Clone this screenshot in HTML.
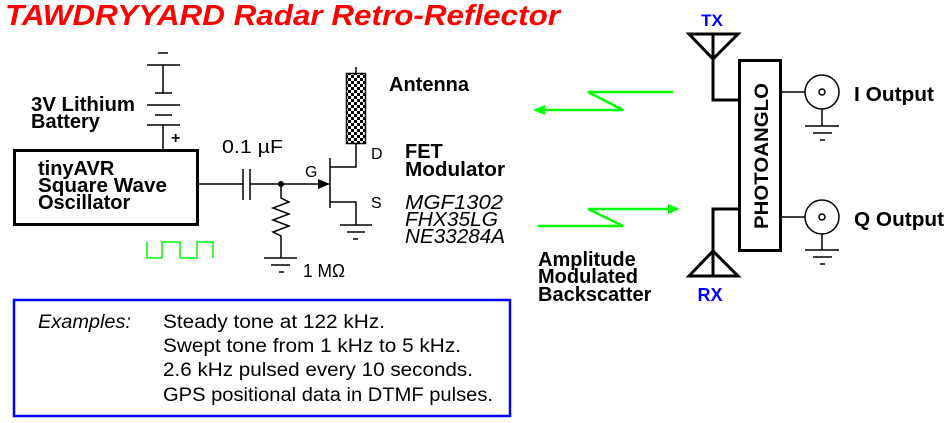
<!DOCTYPE html>
<html><head><meta charset="utf-8"><style>
html,body{margin:0;padding:0;background:#fff;}
svg{display:block;font-family:"Liberation Sans",Arial,sans-serif;}
</style></head><body>
<svg width="945" height="423" viewBox="0 0 945 423" xmlns="http://www.w3.org/2000/svg">
<defs>
<pattern id="chk" width="6" height="6" patternUnits="userSpaceOnUse">
<rect width="6" height="6" fill="#fff"/><rect width="3" height="3" fill="#000"/><rect x="3" y="3" width="3" height="3" fill="#000"/>
</pattern>
</defs>
<text x="5" y="25" font-size="29" font-weight="bold" font-style="italic" fill="#f00" textLength="555" lengthAdjust="spacingAndGlyphs">TAWDRYYARD Radar Retro-Reflector</text>

<g stroke="#000" stroke-width="1.5" fill="none">
<line x1="158" y1="53" x2="168" y2="53"/>
<line x1="147" y1="65" x2="180" y2="65"/>
<line x1="163" y1="65" x2="163" y2="93"/>
<line x1="155" y1="93" x2="172" y2="93"/>
<line x1="147" y1="105" x2="180" y2="105"/>
<line x1="155" y1="115" x2="172" y2="115"/>
<line x1="147" y1="125" x2="180" y2="125"/>
<line x1="163" y1="125" x2="163" y2="149"/>
<line x1="198" y1="184" x2="243" y2="184"/>
<line x1="243" y1="169" x2="243" y2="200"/>
<line x1="250" y1="169" x2="250" y2="200"/>
<line x1="250" y1="184" x2="322" y2="184"/>
<polyline points="281,184 281,198 289,202 273,208 289,214 273,220 289,226 273,232 281,236 281,258"/>
<line x1="264" y1="258" x2="297" y2="258"/>
<line x1="271" y1="265" x2="290" y2="265"/>
<line x1="279" y1="272" x2="284" y2="272"/>
<line x1="330" y1="158" x2="330" y2="208"/>
<polyline points="330,167 356,167 356,143"/>
<polyline points="330,202 356,202 356,225"/>
<line x1="340" y1="225" x2="372" y2="225"/>
<line x1="347" y1="232" x2="365" y2="232"/>
<line x1="353" y1="239" x2="358" y2="239"/>
<line x1="356" y1="67" x2="356" y2="73"/>
</g>
<polygon points="330,184 318,179 318,189" fill="#000"/>
<circle cx="281" cy="184" r="3" fill="#000"/>
<rect x="346.5" y="73.5" width="19" height="70" fill="url(#chk)" stroke="#000" stroke-width="1.5"/>
<rect x="14.5" y="150.5" width="183" height="74" fill="none" stroke="#000" stroke-width="3"/>
<polyline points="147,242 147,258 162,258 162,242 180,242 180,258 197,258 197,242 213,242 213,258" fill="none" stroke="#0f0" stroke-width="1.5"/>

<g font-weight="bold" font-size="20" fill="#000">
<text x="31" y="111" textLength="104" lengthAdjust="spacingAndGlyphs">3V Lithium</text>
<text x="31" y="128">Battery</text>
<text x="38" y="175">tinyAVR</text>
<text x="38" y="192" textLength="129" lengthAdjust="spacingAndGlyphs">Square Wave</text>
<text x="38" y="209">Oscillator</text>
<text x="389" y="91">Antenna</text>
<text x="405" y="158">FET</text>
<text x="405" y="176" textLength="100" lengthAdjust="spacingAndGlyphs">Modulator</text>
<text x="538" y="266">Amplitude</text>
<text x="538" y="283">Modulated</text>
<text x="538" y="301">Backscatter</text>
<text x="854" y="101" textLength="80" lengthAdjust="spacingAndGlyphs">I Output</text>
<text x="854" y="226" textLength="90" lengthAdjust="spacingAndGlyphs">Q Output</text>
</g>
<text x="171" y="143" font-size="16" font-weight="bold">+</text>
<g font-size="18" fill="#000">
<text x="222" y="153" textLength="61" lengthAdjust="spacingAndGlyphs">0.1 µF</text>
<text x="303" y="277" textLength="42" lengthAdjust="spacingAndGlyphs">1 MΩ</text>
<text x="305" y="177" font-size="16">G</text>
<text x="371" y="159" font-size="16">D</text>
<text x="371" y="208" font-size="16">S</text>
</g>
<g font-size="20" font-style="italic" fill="#000">
<text x="405" y="209" textLength="98" lengthAdjust="spacingAndGlyphs">MGF1302</text>
<text x="405" y="226" textLength="93" lengthAdjust="spacingAndGlyphs">FHX35LG</text>
<text x="405" y="243" textLength="100" lengthAdjust="spacingAndGlyphs">NE33284A</text>
</g>

<g stroke="#0f0" stroke-width="2.5" fill="none">
<polyline points="673,92 588,92 623,110 540,110"/>
<polyline points="538,226 623,226 588,209 672,209"/>
</g>
<polygon points="533,110 545,105 545,115" fill="#0f0"/>
<polygon points="680,209 668,204 668,214" fill="#0f0"/>

<g stroke="#000" stroke-width="3" fill="none">
<polygon points="689,34 738,34 713,59"/>
<line x1="713" y1="34" x2="713" y2="59"/>
<polyline points="713,59 713,100 739,100"/>
<polyline points="739,209 713,209 713,276"/>
<polygon points="689,276 738,276 713,251"/>
<line x1="713" y1="251" x2="713" y2="276"/>
<rect x="739.5" y="60.5" width="41" height="190"/>
</g>
<g stroke="#000" stroke-width="1.5" fill="none">
<line x1="781" y1="92" x2="805" y2="92"/>
<circle cx="822" cy="92" r="17"/>
<circle cx="822" cy="92" r="3"/>
<line x1="822" y1="109" x2="822" y2="126"/>
<line x1="805" y1="126" x2="839" y2="126"/>
<line x1="813" y1="133" x2="832" y2="133"/>
<line x1="820" y1="140" x2="825" y2="140"/>
<line x1="781" y1="217" x2="805" y2="217"/>
<circle cx="822" cy="217" r="17"/>
<circle cx="822" cy="217" r="3"/>
<line x1="822" y1="234" x2="822" y2="250"/>
<line x1="805" y1="250" x2="839" y2="250"/>
<line x1="813" y1="257" x2="832" y2="257"/>
<line x1="820" y1="264" x2="825" y2="264"/>
</g>
<text transform="translate(768,156) rotate(-90)" text-anchor="middle" font-size="19" font-weight="bold" textLength="146" lengthAdjust="spacingAndGlyphs">PHOTOANGLO</text>
<text x="712" y="26" text-anchor="middle" font-size="17" font-weight="bold" fill="#00f">TX</text>
<text x="710" y="301" text-anchor="middle" font-size="18" font-weight="bold" fill="#00f">RX</text>

<rect x="14" y="300" width="496" height="116" fill="none" stroke="#00f" stroke-width="2.5"/>
<g font-size="19" fill="#000">
<text x="38" y="328" font-style="italic" textLength="93" lengthAdjust="spacingAndGlyphs">Examples:</text>
<text x="163" y="328" textLength="222" lengthAdjust="spacingAndGlyphs">Steady tone at 122 kHz.</text>
<text x="163" y="352" textLength="298" lengthAdjust="spacingAndGlyphs">Swept tone from 1 kHz to 5 kHz.</text>
<text x="163" y="376" textLength="310" lengthAdjust="spacingAndGlyphs">2.6 kHz pulsed every 10 seconds.</text>
<text x="163" y="401" textLength="330" lengthAdjust="spacingAndGlyphs">GPS positional data in DTMF pulses.</text>
</g>
</svg>
</body></html>
